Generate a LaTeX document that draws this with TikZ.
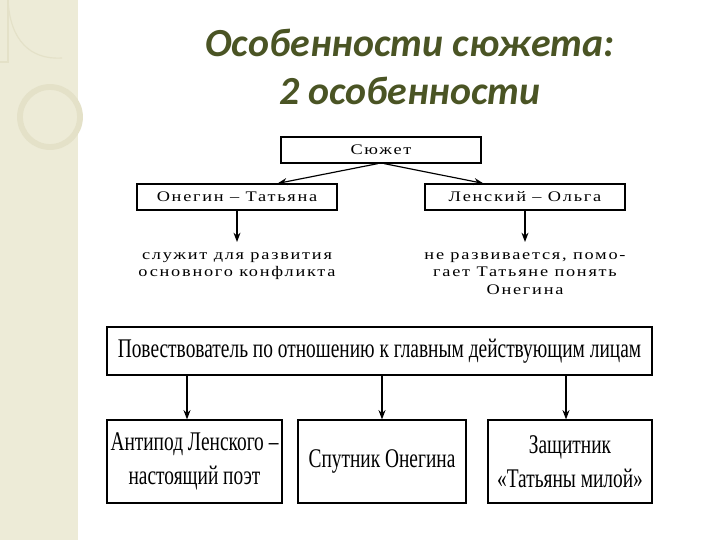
\documentclass[tikz,border=0pt]{standalone}
\usepackage{fontspec}
\setmainfont{Liberation Serif}
\newfontfamily\widefont[LetterSpace=12,FakeStretch=1.25]{Liberation Serif}
\newfontfamily\narrowfont[FakeStretch=0.72]{Liberation Serif}
\newfontfamily\titlefont{Carlito}
\usetikzlibrary{calc,positioning,arrows.meta}
\definecolor{titlegreen}{HTML}{4A5424}
\definecolor{stripbeige}{HTML}{EDEBD7}
\definecolor{ringbeige}{HTML}{E4E1C8}

\tikzset{
	smallbox/.style={draw, line width=1pt, minimum width=6cm, minimum height=0.78cm, inner sep=0pt, font=\widefont\fontsize{12.5}{13}\selectfont},
	smalltext/.style={align=center, inner sep=0pt, font=\widefont\fontsize{12.5}{15.2}\selectfont},
	bigbox/.style={draw, line width=1pt, align=center, inner sep=0pt, minimum height=2.49cm, font=\narrowfont\fontsize{23}{29}\selectfont},
	arr/.style={-{Stealth[length=8pt,width=6pt]}, line width=1pt}
}

\begin{document}
\begin{tikzpicture}[x=0.03cm, y=-0.03cm]
		\useasboundingbox (0,0) rectangle (720,540);
		\fill[white] (0,0) rectangle (720,540);
		% left strip
		\fill[stripbeige] (0,0) rectangle (78,540);
		\draw[ringbeige, line width=5pt] (50,117) circle (30);
		\draw[ringbeige, line width=1pt] (8,0) .. controls (10,40) and (30,60) .. (62,58);
		\draw[ringbeige, line width=1pt] (0,62) -- (8,62) -- (8,0);

		% title
		\node[font=\titlefont\bfseries\itshape\fontsize{34}{41}\selectfont, text=titlegreen, align=center] (title) at (410,67) {Особенности сюжета:\\2 особенности};

		% upper scheme
		\node[smallbox] (plot) at (381,150) {Сюжет};
		\node[smallbox] (onegin) at (237,197) {Онегин – Татьяна};
		\node[smallbox] (lensky) at (525,197) {Ленский – Ольга};
		\node[smalltext, anchor=north] (conflict) at (237,252) {служит для развития\\основного конфликта};
		\node[smalltext, anchor=north] (help) at (525,252) {не развивается, помо-\\гает Татьяне понять\\Онегина};

		\draw[arr] ($(plot.south)+(-3,0)$) -- ($(onegin.north east)+(-60,0)$);
		\draw[arr] ($(plot.south)+(3,0)$) -- ($(lensky.north west)+(59,0)$);
		\draw[arr] (onegin.south) -- ($(conflict.north)+(0,-10)$);
		\draw[arr] (lensky.south) -- ($(help.north)+(0,-10)$);

		% lower scheme
		\node[draw, line width=1pt, minimum width=16.35cm, minimum height=1.44cm, inner sep=0pt, font=\narrowfont\fontsize{23}{29}\selectfont] (narrator) at (379.5,351) {Повествователь по отношению к главным действующим лицам};
		\node[bigbox, minimum width=5.25cm] (antipode) at (194.5,461.5) {Антипод Ленского –\\настоящий поэт};
		\node[bigbox, minimum width=5.04cm] (companion) at (382,461.5) {Спутник Онегина};
		\node[bigbox, minimum width=4.92cm] (defender) at (570,461.5) {Защитник\\«Татьяны милой»};

		\draw[arr] (narrator.south -| 187,0) -- (antipode.north -| 187,0);
		\draw[arr] (narrator.south -| companion.north) -- (companion.north);
		\draw[arr] (narrator.south -| 566,0) -- (defender.north -| 566,0);
	\end{tikzpicture}
\end{document}
